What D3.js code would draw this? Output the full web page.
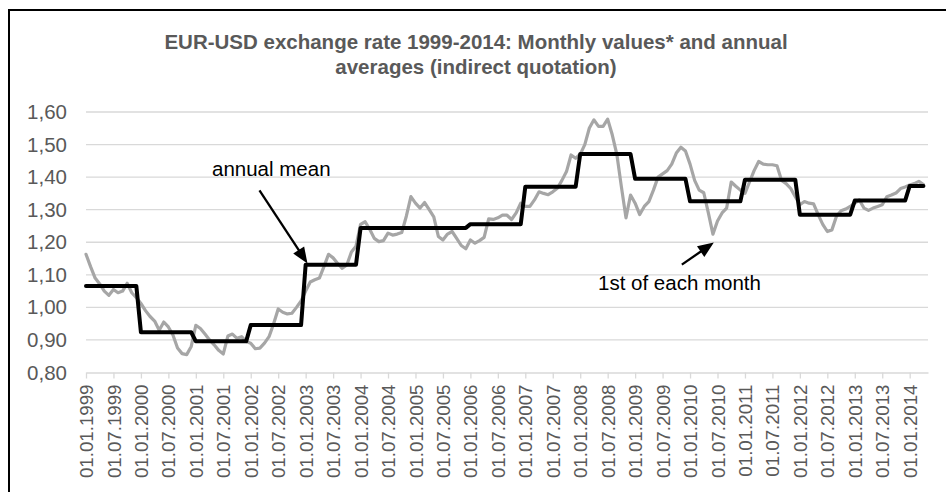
<!DOCTYPE html>
<html><head><meta charset="utf-8">
<script src="https://cdn.jsdelivr.net/npm/d3@7"></script>
<style>html,body{margin:0;padding:0;background:#fff;overflow:hidden}</style>
</head><body><svg id="c" width="946" height="492"></svg>
<script>
// ---- data ----
const years = [1999,2000,2001,2002,2003,2004,2005,2006,2007,2008,2009,2010,2011,2012,2013,2014];
const annualMeans = [1.0658,0.9236,0.8956,0.9456,1.1312,1.2439,1.2441,1.2556,1.3705,1.4708,1.3948,1.3257,1.3920,1.2848,1.3281,1.3730];
// EUR-USD on the 1st of each month, 01.01.1999 .. 01.04.2014
const monthlyRates = [
  1.163,1.125,1.090,1.072,1.050,1.037,1.055,1.045,1.050,1.074,1.045,1.030,
  1.012,0.990,0.972,0.958,0.930,0.955,0.940,0.915,0.875,0.858,0.855,0.880,
  0.945,0.935,0.918,0.900,0.885,0.868,0.857,0.912,0.918,0.905,0.910,0.895,
  0.890,0.873,0.875,0.890,0.910,0.950,0.995,0.985,0.980,0.982,1.000,1.020,
  1.050,1.078,1.085,1.090,1.125,1.163,1.152,1.135,1.120,1.130,1.170,1.188,
  1.255,1.263,1.240,1.212,1.202,1.205,1.228,1.222,1.225,1.230,1.280,1.340,
  1.320,1.305,1.322,1.300,1.278,1.218,1.207,1.225,1.233,1.212,1.190,1.180,
  1.207,1.197,1.205,1.215,1.272,1.270,1.275,1.283,1.283,1.270,1.290,1.320,
  1.310,1.310,1.330,1.355,1.350,1.346,1.355,1.366,1.390,1.417,1.468,1.458,
  1.470,1.500,1.551,1.576,1.556,1.556,1.578,1.530,1.470,1.370,1.275,1.345,
  1.320,1.285,1.310,1.325,1.360,1.400,1.410,1.420,1.440,1.474,1.492,1.480,
  1.440,1.390,1.360,1.352,1.290,1.225,1.265,1.290,1.305,1.385,1.372,1.360,
  1.350,1.385,1.420,1.448,1.440,1.438,1.438,1.435,1.390,1.380,1.365,1.340,
  1.315,1.325,1.320,1.318,1.285,1.255,1.233,1.238,1.280,1.297,1.302,1.310,
  1.320,1.330,1.305,1.298,1.305,1.310,1.315,1.340,1.345,1.351,1.365,1.370,
  1.376,1.380,1.387,1.377
];
const tickLabels = ["01.01.1999","01.07.1999","01.01.2000","01.07.2000","01.01.2001","01.07.2001",
  "01.01.2002","01.07.2002","01.01.2003","01.07.2003","01.01.2004","01.07.2004","01.01.2005",
  "01.07.2005","01.01.2006","01.07.2006","01.01.2007","01.07.2007","01.01.2008","01.07.2008",
  "01.01.2009","01.07.2009","01.01.2010","01.07.2010","01.01.2011","01.07.2011","01.01.2012",
  "01.07.2012","01.01.2013","01.07.2013","01.01.2014"];
const yTicks = [0.8,0.9,1.0,1.1,1.2,1.3,1.4,1.5,1.6];
const titleLines = ["EUR-USD exchange rate 1999-2014: Monthly values* and annual","averages (indirect quotation)"];

// annual mean repeated for each month
const annualSeries = monthlyRates.map((_, i) => annualMeans[Math.floor(i / 12)]);

// ---- drawing ----
const svg = d3.select('#c');
const FONT = '"Liberation Sans", Arial, sans-serif';

svg.append('rect').attr('x', 9).attr('y', 10).attr('width', 1000).attr('height', 600)
  .attr('fill', '#fff').attr('stroke', '#000').attr('stroke-width', 2);

const x = d3.scaleLinear().domain([0, monthlyRates.length]).range([86, 928]);
const y = d3.scaleLinear().domain([0.8, 1.6]).range([372.5, 112]);

// title
svg.append('g').selectAll('text').data(titleLines).join('text')
  .attr('x', 476).attr('y', (d, i) => 49 + i * 24.5)
  .attr('text-anchor', 'middle').attr('font-family', FONT).attr('font-weight', 'bold')
  .attr('font-size', '20.5px').attr('fill', '#595959').text(d => d);

// gridlines
svg.append('g').selectAll('line').data(yTicks.slice(1)).join('line')
  .attr('x1', x(0)).attr('x2', x(monthlyRates.length))
  .attr('y1', d => y(d)).attr('y2', d => y(d))
  .attr('stroke', '#d9d9d9').attr('stroke-width', 1.3);

// y axis
const yAxis = svg.append('g').attr('transform', `translate(${x(0)},0)`)
  .call(d3.axisLeft(y).tickValues(yTicks).tickSize(0).tickPadding(19)
    .tickFormat(d => d.toFixed(2).replace('.', ',')));
yAxis.select('.domain').remove();
yAxis.selectAll('text').attr('font-family', FONT).attr('font-size', '20.5px').attr('fill', '#595959');

// x axis
const tickIdx = tickLabels.map((_, i) => i * 6);
const xAxis = svg.append('g').attr('transform', `translate(0,${y(0.8)})`)
  .call(d3.axisBottom(x).tickValues(tickIdx).tickSize(6).tickSizeOuter(0)
    .tickFormat((d, i) => tickLabels[i]));
xAxis.select('.domain').attr('stroke', '#d9d9d9').attr('stroke-width', 1.3);
xAxis.selectAll('.tick line').attr('stroke', '#d9d9d9').attr('stroke-width', 1.3);
xAxis.selectAll('text').attr('font-family', FONT).attr('font-size', '18.7px').attr('fill', '#595959')
  .attr('transform', 'rotate(-90)').attr('x', -12).attr('y', 0).attr('dy', '0.35em')
  .style('text-anchor', 'end');

// series
const line = d3.line().x((d, i) => x(i)).y(d => y(d));
svg.append('path').datum(monthlyRates).attr('d', line).attr('fill', 'none')
  .attr('stroke', '#a6a6a6').attr('stroke-width', 3.2).attr('stroke-linejoin', 'round').attr('stroke-linecap', 'round');
svg.append('path').datum(annualSeries).attr('d', line).attr('fill', 'none')
  .attr('stroke', '#000').attr('stroke-width', 4).attr('stroke-linejoin', 'round').attr('stroke-linecap', 'round');

// annotations
function arrow(tipX, tipY, dx, dy) {
  const len = Math.hypot(dx, dy), ux = -dx / len, uy = -dy / len;
  const hl = 16, hw = 6.5;
  const bx = tipX - ux * hl, by = tipY - uy * hl;
  svg.append('line').attr('x1', tipX + dx).attr('y1', tipY + dy).attr('x2', bx + ux * 2).attr('y2', by + uy * 2)
    .attr('stroke', '#000').attr('stroke-width', 2.3);
  svg.append('path').attr('d', `M${tipX},${tipY}L${bx - uy * hw},${by + ux * hw}L${bx + uy * hw},${by - ux * hw}Z`)
    .attr('fill', '#000');
}
arrow(x(48.4), y(1.135), -48, -73);
arrow(x(137.2), y(1.199), -32, 22);

svg.append('text').attr('x', 212).attr('y', 175.5).attr('font-family', FONT).attr('font-size', '20.5px')
  .attr('fill', '#000').text('annual mean');
svg.append('text').attr('x', 598).attr('y', 290).attr('font-family', FONT).attr('font-size', '20.5px')
  .attr('fill', '#000').text('1st of each month');
</script>
</body></html>
